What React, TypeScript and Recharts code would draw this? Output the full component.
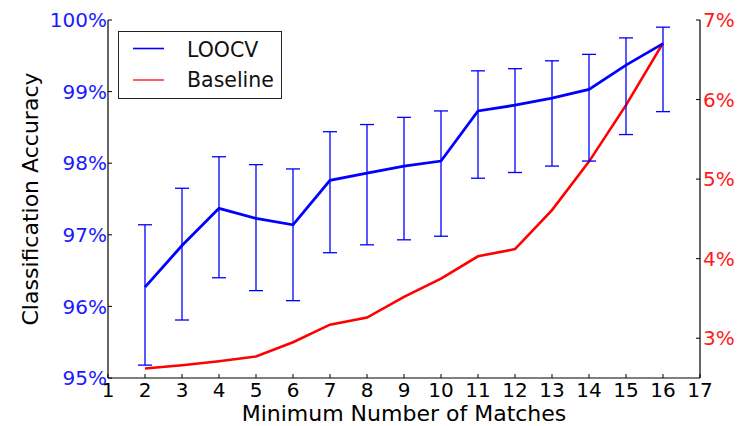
import React from 'react';
import { ComposedChart, Line, XAxis, YAxis, ErrorBar, Label, Legend } from 'recharts';

const matches = [2, 3, 4, 5, 6, 7, 8, 9, 10, 11, 12, 13, 14, 15, 16];
const loocvMean = [96.27, 96.85, 97.37, 97.23, 97.14, 97.76, 97.86, 97.96, 98.03, 98.73, 98.81, 98.91, 99.03, 99.37, 99.67];
const loocvUpper = [97.14, 97.65, 98.09, 97.98, 97.92, 98.44, 98.54, 98.64, 98.73, 99.29, 99.32, 99.43, 99.52, 99.75, 99.9];
const loocvLower = [95.18, 95.81, 96.4, 96.22, 96.08, 96.75, 96.86, 96.93, 96.98, 97.79, 97.87, 97.96, 98.03, 98.4, 98.72];
const baselineRate = [2.62, 2.66, 2.71, 2.77, 2.95, 3.17, 3.26, 3.52, 3.75, 4.03, 4.12, 4.61, 5.22, 5.93, 6.71];

const xTicks = [1, 2, 3, 4, 5, 6, 7, 8, 9, 10, 11, 12, 13, 14, 15, 16, 17];
const leftTicks = [95, 96, 97, 98, 99, 100];
const rightTicks = [3, 4, 5, 6, 7];

const data = matches.map((m, i) => ({
  m,
  loocv: loocvMean[i],
  err: [loocvMean[i] - loocvLower[i], loocvUpper[i] - loocvMean[i]],
  baseline: baselineRate[i],
}));

const FONT = "'DejaVu Sans', sans-serif";
const BLUE = '#0000ff';
const RED = '#ff0000';

const renderLegend = () => (
  <div
    style={{
      width: 164,
      height: 68,
      border: '1.5px solid #222',
      background: '#fff',
      boxSizing: 'border-box',
    }}
  >
    <svg width={161} height={65} style={{ display: 'block' }}>
      <line x1={14} x2={45} y1={16.5} y2={16.5} stroke={BLUE} strokeWidth={1.6} />
      <text x={68} y={25} fontFamily={FONT} fontSize={20.5} fill="#111">LOOCV</text>
      <line x1={14} x2={45} y1={48} y2={48} stroke="#ff3a3a" strokeWidth={1.6} />
      <text x={68} y={55} fontFamily={FONT} fontSize={20.5} fill="#111">Baseline</text>
    </svg>
  </div>
);

const emptyTick = () => <g />;

export default function App() {
  return (
    <div style={{ position: 'absolute', left: 0, top: 0, width: 749, height: 426, background: '#fff' }}>
      <ComposedChart
        width={749}
        height={426}
        data={data}
        margin={{ top: 20, right: 0, bottom: 0, left: 0 }}
        style={{ fontFamily: FONT }}
      >
        <XAxis
          dataKey="m"
          type="number"
          domain={[1, 17]}
          ticks={xTicks}
          interval={0}
          height={48}
          stroke="#000"
          tickSize={-4}
          tickMargin={9}
          tick={{ fill: '#000', fontSize: 20, fontFamily: FONT }}
          axisLine={{ stroke: '#000', strokeWidth: 1.2 }}
          tickLine={{ stroke: '#000' }}
        >
          <Label
            content={() => (
              <text x={404} y={420.5} textAnchor="middle" fontFamily={FONT} fontSize={22} fill="#000">
                Minimum Number of Matches
              </text>
            )}
          />
        </XAxis>
        <XAxis
          xAxisId="top"
          dataKey="m"
          type="number"
          orientation="top"
          domain={[1, 17]}
          ticks={xTicks}
          interval={0}
          height={0}
          tickSize={-4}
          tick={emptyTick}
          axisLine={{ stroke: '#000', strokeWidth: 1.2 }}
          tickLine={{ stroke: '#000' }}
        />
        <YAxis
          yAxisId="left"
          orientation="left"
          type="number"
          domain={[95, 100]}
          ticks={leftTicks}
          interval={0}
          allowDataOverflow
          width={108}
          tickSize={-4}
          tickMargin={5}
          tickFormatter={(v: number) => `${v}%`}
          tick={{ fill: '#1a1aff', fontSize: 20, fontFamily: FONT }}
          axisLine={{ stroke: '#000', strokeWidth: 1.2 }}
          tickLine={{ stroke: '#000' }}
        >
          <Label
            content={() => (
              <text
                x={38}
                y={199}
                transform="rotate(-90, 38, 199)"
                textAnchor="middle"
                fontFamily={FONT}
                fontSize={22}
                fill="#000"
              >
                Classification Accuracy
              </text>
            )}
          />
        </YAxis>
        <YAxis
          yAxisId="right"
          orientation="right"
          type="number"
          domain={[2.5, 7]}
          ticks={rightTicks}
          interval={0}
          allowDataOverflow
          width={49}
          tickSize={-4}
          tickMargin={7}
          tickFormatter={(v: number) => `${v}%`}
          tick={{ fill: '#ff1a1a', fontSize: 20, fontFamily: FONT }}
          axisLine={{ stroke: '#000', strokeWidth: 1.2 }}
          tickLine={{ stroke: '#000' }}
        />
        <Legend
          layout="horizontal"
          verticalAlign="middle"
          align="center"
          content={renderLegend}
          wrapperStyle={{ position: 'absolute', left: 118, top: 31, width: 164, height: 68 }}
        />
        <Line
          yAxisId="right"
          dataKey="baseline"
          type="linear"
          stroke={RED}
          strokeWidth={2.6}
          dot={false}
          isAnimationActive={false}
        />
        <Line
          yAxisId="left"
          dataKey="loocv"
          type="linear"
          stroke={BLUE}
          strokeWidth={2.8}
          dot={false}
          isAnimationActive={false}
        >
          <ErrorBar dataKey="err" direction="y" width={7} stroke={BLUE} strokeWidth={1.3} isAnimationActive={false} />
        </Line>
      </ComposedChart>
    </div>
  );
}
